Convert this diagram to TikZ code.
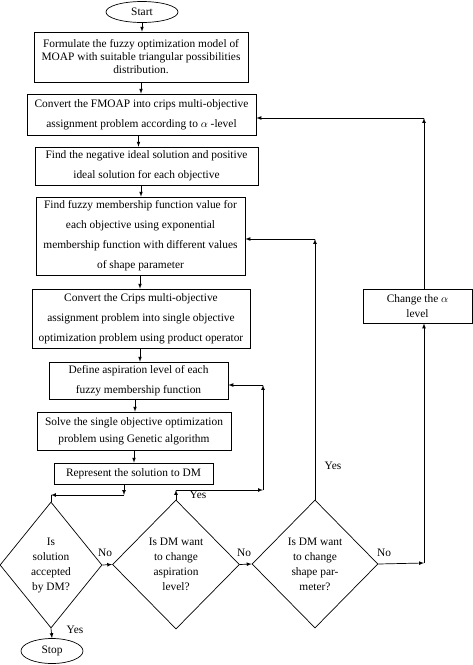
\documentclass[tikz,border=0pt]{standalone}
\usepackage{amsmath}
\usepackage{fontspec}
\setmainfont{Liberation Serif}
\usepackage{tikz}
\usetikzlibrary{shapes.geometric, arrows}

\tikzset{
    procbox/.style={draw, rectangle, align=center, inner sep=1pt,
        font=\fontsize{11.4}{20}\selectfont},
    termnode/.style={draw, ellipse, inner sep=0pt, font=\fontsize{11.4}{13}\selectfont},
    decnode/.style={draw, diamond, align=center, inner sep=0pt, shape aspect=0.8,
        font=\fontsize{11.4}{15}\selectfont},
    lbl/.style={font=\fontsize{11.4}{13}\selectfont}
}

\begin{document}
\begin{tikzpicture}[x=1pt, y=-1pt, line width=0.7pt, >=latex]
    \useasboundingbox (0,0) rectangle (473,665);

    % Main column
    \node[termnode, minimum width=72, minimum height=21] (start) at (142,12) {Start};
    \node[procbox, minimum width=214, minimum height=50, font=\fontsize{11.4}{13}\selectfont]
        (formulate) at (141,57)
        {Formulate the fuzzy optimization model of\\MOAP with suitable triangular possibilities\\distribution.};
    \node[procbox, minimum width=229, minimum height=41] (convert) at (141.5,114.5)
        {Convert the FMOAP into crips multi-objective\\assignment problem according to $\alpha$ -level};
    \node[procbox, minimum width=223, minimum height=38] (ideal) at (146.5,166)
        {Find the negative ideal solution and positive\\ideal solution for each objective};
    \node[procbox, minimum width=209, minimum height=78] (member) at (140.5,236)
        {Find fuzzy membership function value for\\each objective using exponential\\membership function with different values\\of shape parameter};
    \node[procbox, minimum width=218, minimum height=59] (single) at (141,318.5)
        {Convert the Crips multi-objective\\assignment problem into single objective\\optimization problem using product operator};
    \node[procbox, minimum width=179, minimum height=37] (aspir) at (138.5,380.5)
        {Define aspiration level of each\\fuzzy membership function};
    \node[procbox, minimum width=194, minimum height=38, font=\fontsize{11.4}{17}\selectfont]
        (solve) at (134,431)
        {Solve the single objective optimization\\problem using Genetic algorithm};
    \node[procbox, minimum width=159, minimum height=21] (repr) at (133.5,473.5)
        {Represent the solution to DM};

    % Decisions
    \node[decnode, minimum width=102, minimum height=126] (accept) at (51,565)
        {Is\\solution\\accepted\\by DM?};
    \node[decnode, minimum width=127, minimum height=129] (chasp) at (176,564.5)
        {Is DM want\\to change\\aspiration\\level?};
    \node[decnode, minimum width=126, minimum height=128] (chshape) at (315,564)
        {Is DM want\\to change\\shape par-\\meter?};
    \node[termnode, minimum width=62, minimum height=25] (stop) at (52,651) {Stop};
    \node[procbox, minimum width=109, minimum height=34, font=\fontsize{11.4}{15}\selectfont]
        (chalpha) at (417.5,306) {Change the $\alpha$\\level};

    % Junctions
    \coordinate (rdown) at (124,495);
    \coordinate (jacc) at (51,495);
    \coordinate (jasp) at (176,490);
    \coordinate (jasp2) at (263,490);
    \coordinate (jasp3) at (263,385);
    \coordinate (jsh) at (315,239);
    \coordinate (jno) at (424,563);
    \coordinate (jal) at (424,118);

    % Straight flow
    \draw[->] (start) -- (start |- formulate.north);
    \draw[->] (formulate.south) -- (formulate.south |- convert.north);
    \draw[->] ([xshift=-3]convert.south) -- ([xshift=-3]convert.south |- ideal.north);
    \draw[->] (ideal.south -| formulate.south) -- (formulate.south |- member.north);
    \draw[->] ([xshift=-0.5]member.south) -- ([xshift=-0.5]member.south |- single.north);
    \draw[->] ([xshift=-1]single.south) -- ([xshift=-1]single.south |- aspir.north);
    \draw[->] ([xshift=-3.5]aspir.south) -- ([xshift=-3.5]aspir.south |- solve.north);
    \draw[->] (solve.south) -- (solve.south |- repr.north);
    \draw[->] (repr.south -| rdown) -- (rdown);
    \draw[->] (rdown) -- (jacc);
    \draw (jacc) -- (accept.north);
    \draw[->] (accept.south) -- (stop.north);
    \node[lbl] (yes1) at (75,630) {Yes};

    % No branch
    \draw[->] (accept.east) -- (chasp.west);
    \node[lbl] (no1) at (105,553) {No};
    \draw[->] (chasp.east) -- (chshape.west);
    \node[lbl] (no2) at (244,553) {No};
    \draw[->] (chshape.east) -- (jno);
    \node[lbl] (no3) at (384,553) {No};
    \draw[->] (jno) -- (jno |- chalpha.south);
    \draw[->] (jno |- chalpha.north) -- (jal);
    \draw[->] (jal) -- (convert.east |- jal);

    % Yes branches
    \draw[->] (chasp.north) -- (jasp);
    \draw[->] (jasp) -- (jasp2);
    \draw[->] (jasp2) -- (jasp3);
    \draw[->] (jasp3) -- (aspir.east |- jasp3);
    \node[lbl] (yes2) at (198,495) {Yes};
    \draw[->] (chshape.north) -- (jsh);
    \draw[->] (jsh) -- (member.east |- jsh);
    \node[lbl] (yes3) at (333,466) {Yes};
\end{tikzpicture}
\end{document}
